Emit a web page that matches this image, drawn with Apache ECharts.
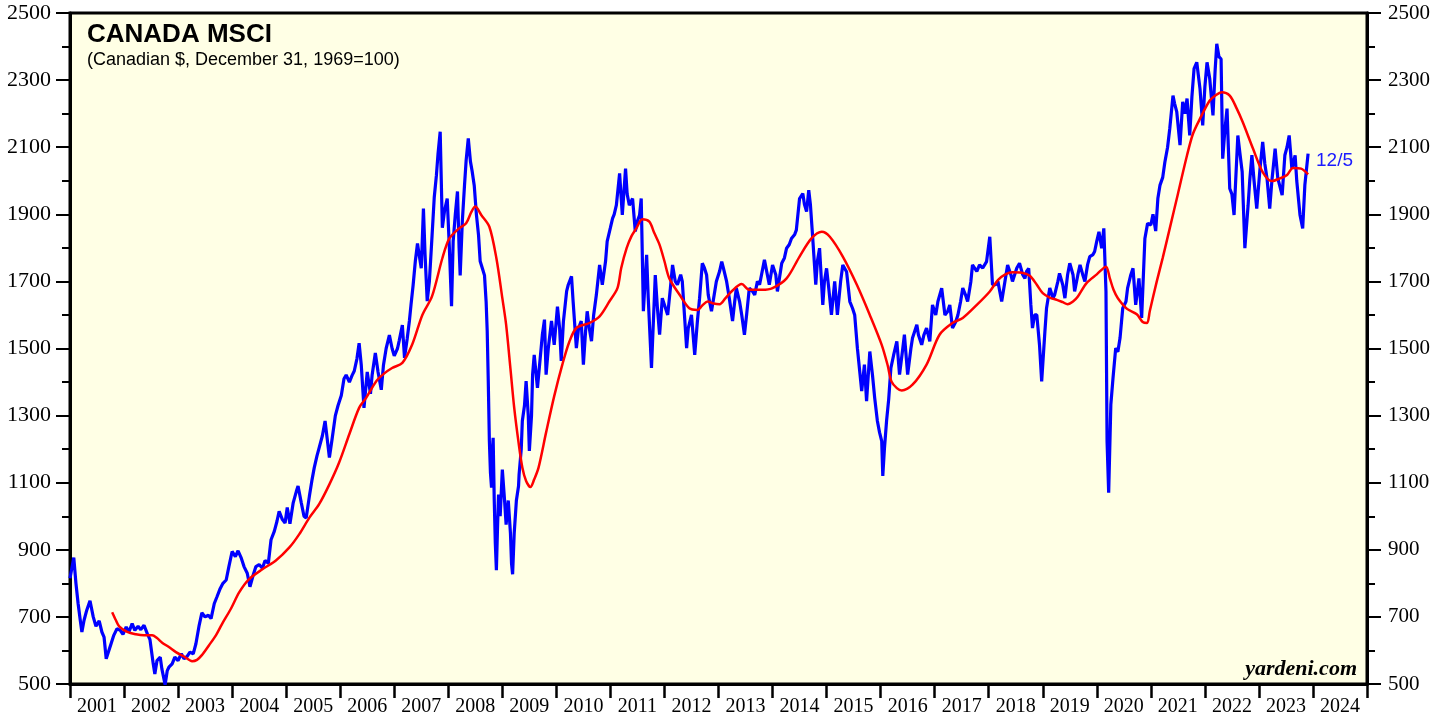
<!DOCTYPE html>
<html>
<head>
<meta charset="utf-8">
<script src="https://cdn.jsdelivr.net/npm/echarts@6/dist/echarts.min.js"></script>
<style>
  html, body { margin: 0; padding: 0; background: #fff; }
  #main { width: 1448px; height: 717px; }
</style>
</head>
<body>
<div id="main"></div>
<script>
// year labels under the axis
var years = ['2001', '2002', '2003', '2004', '2005', '2006', '2007', '2008', '2009', '2010', '2011', '2012',
  '2013', '2014', '2015', '2016', '2017', '2018', '2019', '2020', '2021', '2022', '2023', '2024'];

// Canada MSCI index (decimal year, value)
var msciTime = [
  2001.00, 2001.04, 2001.07, 2001.11, 2001.15, 2001.19, 2001.22, 2001.26, 2001.31, 2001.37, 2001.43, 2001.48,
  2001.54, 2001.59, 2001.63, 2001.67, 2001.70, 2001.76, 2001.81, 2001.87, 2001.93, 2001.98,
  2002.04, 2002.09, 2002.15, 2002.20, 2002.26, 2002.31, 2002.37, 2002.43, 2002.48, 2002.54, 2002.57, 2002.61,
  2002.67, 2002.70, 2002.76, 2002.80, 2002.83, 2002.89, 2002.94,
  2003.00, 2003.06, 2003.11, 2003.17, 2003.22, 2003.28, 2003.33, 2003.39, 2003.44, 2003.50, 2003.56, 2003.61,
  2003.67, 2003.72, 2003.78, 2003.83, 2003.89, 2003.94,
  2004.00, 2004.06, 2004.11, 2004.17, 2004.22, 2004.28, 2004.33, 2004.39, 2004.44, 2004.50, 2004.56, 2004.61,
  2004.67, 2004.72, 2004.78, 2004.83, 2004.87, 2004.93, 2004.98,
  2005.02, 2005.07, 2005.13, 2005.19, 2005.22, 2005.28, 2005.33, 2005.37, 2005.43, 2005.48, 2005.52, 2005.57,
  2005.61, 2005.67, 2005.72, 2005.76, 2005.80, 2005.85, 2005.91, 2005.96,
  2006.02, 2006.07, 2006.11, 2006.17, 2006.22, 2006.26, 2006.31, 2006.35, 2006.39, 2006.44, 2006.50, 2006.56,
  2006.59, 2006.65, 2006.70, 2006.76, 2006.80, 2006.85, 2006.91, 2006.96,
  2007.00, 2007.06, 2007.09, 2007.15, 2007.19, 2007.24, 2007.28, 2007.31, 2007.35, 2007.39, 2007.43, 2007.46,
  2007.50, 2007.54, 2007.57, 2007.61, 2007.65, 2007.70, 2007.74, 2007.78, 2007.81, 2007.85, 2007.89, 2007.93, 2007.98,
  2008.02, 2008.06, 2008.09, 2008.13, 2008.17, 2008.20, 2008.22, 2008.26, 2008.30, 2008.33, 2008.37, 2008.41,
  2008.44, 2008.48, 2008.52, 2008.56, 2008.59, 2008.63, 2008.67, 2008.70, 2008.72, 2008.74, 2008.76, 2008.78,
  2008.80, 2008.81, 2008.83, 2008.85, 2008.87, 2008.89, 2008.91, 2008.93, 2008.96,
  2009.00, 2009.04, 2009.07, 2009.11, 2009.15, 2009.17, 2009.19, 2009.22, 2009.26, 2009.30, 2009.31, 2009.35,
  2009.37, 2009.41, 2009.44, 2009.48, 2009.50, 2009.54, 2009.56, 2009.59, 2009.65, 2009.70, 2009.74, 2009.78,
  2009.81, 2009.85, 2009.91, 2009.96,
  2010.02, 2010.06, 2010.09, 2010.13, 2010.19, 2010.22, 2010.28, 2010.31, 2010.37, 2010.41, 2010.46, 2010.50,
  2010.54, 2010.57, 2010.61, 2010.65, 2010.69, 2010.74, 2010.80, 2010.85, 2010.91, 2010.94,
  2011.00, 2011.04, 2011.07, 2011.11, 2011.17, 2011.22, 2011.28, 2011.31, 2011.35, 2011.41, 2011.46, 2011.50,
  2011.54, 2011.57, 2011.61, 2011.67, 2011.70, 2011.76, 2011.80, 2011.83, 2011.87, 2011.91, 2011.96,
  2012.02, 2012.06, 2012.11, 2012.15, 2012.20, 2012.24, 2012.30, 2012.33, 2012.37, 2012.41, 2012.44, 2012.50,
  2012.56, 2012.61, 2012.65, 2012.70, 2012.74, 2012.78, 2012.81, 2012.87, 2012.91, 2012.96,
  2013.02, 2013.06, 2013.09, 2013.15, 2013.20, 2013.26, 2013.30, 2013.33, 2013.39, 2013.43, 2013.48, 2013.52,
  2013.57, 2013.63, 2013.67, 2013.72, 2013.76, 2013.85, 2013.94,
  2014.00, 2014.06, 2014.09, 2014.17, 2014.22, 2014.26, 2014.31, 2014.35, 2014.41, 2014.44, 2014.50, 2014.56,
  2014.59, 2014.63, 2014.67, 2014.70, 2014.74, 2014.80, 2014.83, 2014.87, 2014.93, 2014.96,
  2015.00, 2015.04, 2015.09, 2015.15, 2015.20, 2015.26, 2015.30, 2015.37, 2015.43, 2015.48, 2015.52, 2015.57,
  2015.65, 2015.70, 2015.74, 2015.80, 2015.85, 2015.89, 2015.94, 2015.98,
  2016.02, 2016.04, 2016.07, 2016.11, 2016.15, 2016.19, 2016.24, 2016.30, 2016.35, 2016.41, 2016.44, 2016.50,
  2016.56, 2016.59, 2016.67, 2016.70, 2016.76, 2016.80, 2016.85, 2016.91, 2016.96,
  2017.02, 2017.06, 2017.13, 2017.19, 2017.24, 2017.28, 2017.33, 2017.39, 2017.43, 2017.48, 2017.52, 2017.57,
  2017.61, 2017.67, 2017.70, 2017.78, 2017.83, 2017.89, 2017.96,
  2018.02, 2018.07, 2018.13, 2018.17, 2018.24, 2018.30, 2018.35, 2018.41, 2018.44, 2018.52, 2018.57, 2018.63,
  2018.67, 2018.70, 2018.74, 2018.78, 2018.81, 2018.85, 2018.89, 2018.94, 2018.98,
  2019.04, 2019.07, 2019.13, 2019.19, 2019.22, 2019.28, 2019.31, 2019.37, 2019.41, 2019.46, 2019.50, 2019.56,
  2019.59, 2019.65, 2019.69, 2019.74, 2019.78, 2019.83, 2019.87, 2019.93, 2019.96,
  2020.00, 2020.04, 2020.09, 2020.13, 2020.17, 2020.19, 2020.22, 2020.26, 2020.30, 2020.35, 2020.39, 2020.43,
  2020.48, 2020.54, 2020.57, 2020.63, 2020.67, 2020.72, 2020.78, 2020.83, 2020.89, 2020.94,
  2021.00, 2021.04, 2021.09, 2021.13, 2021.17, 2021.22, 2021.26, 2021.31, 2021.35, 2021.41, 2021.44, 2021.48,
  2021.54, 2021.59, 2021.63, 2021.67, 2021.72, 2021.76, 2021.80, 2021.85, 2021.91, 2021.96,
  2022.00, 2022.04, 2022.09, 2022.15, 2022.19, 2022.22, 2022.26, 2022.30, 2022.33, 2022.37, 2022.41, 2022.46,
  2022.50, 2022.54, 2022.57, 2022.61, 2022.65, 2022.69, 2022.74, 2022.80, 2022.83, 2022.87, 2022.91, 2022.96,
  2023.02, 2023.07, 2023.11, 2023.15, 2023.20, 2023.24, 2023.30, 2023.35, 2023.43, 2023.48, 2023.52, 2023.56,
  2023.61, 2023.67, 2023.70, 2023.76, 2023.81, 2023.85, 2023.91
];
var msciValues = [
  815, 850, 877, 800, 740, 690, 655, 690, 720, 748, 700, 672,
  688, 655, 640, 575, 590, 620, 645, 665, 660, 648,
  670, 655, 680, 660, 672, 662, 675, 650, 632, 560, 530, 570,
  580, 545, 498, 540, 550, 560, 580,
  570, 590, 575, 583, 595, 590, 620, 675, 712, 700, 705, 695,
  740, 760, 785, 800, 810, 850,
  895, 880, 897, 875, 850, 830, 790, 825, 850, 856, 845, 868,
  860, 930, 955, 985, 1015, 990, 980,
  1026, 978, 1040, 1075, 1090, 1040, 1000, 995, 1060, 1110, 1145, 1180,
  1204, 1240, 1284, 1230, 1175, 1230, 1300, 1330,
  1360, 1410, 1421, 1400, 1420, 1433, 1470, 1516, 1450, 1323, 1430, 1365,
  1420, 1487, 1430, 1377, 1450, 1500, 1540, 1500,
  1478, 1500, 1522, 1570, 1472, 1530, 1582, 1630, 1690, 1760, 1813, 1780,
  1739, 1917, 1780, 1641, 1700, 1837, 1950, 2016, 2080, 2146, 1860, 1910, 1947,
  1800, 1626, 1819, 1900, 1968, 1800, 1718, 1880, 1986, 2060, 2126, 2057,
  2030, 1986, 1900, 1837, 1760, 1739, 1718, 1640, 1552, 1400, 1225, 1130,
  1085, 1180, 1234, 1050, 920, 839, 960, 1065, 1000,
  1139, 1050, 975, 1047, 950, 860, 827, 950, 1047, 1090, 1124, 1200,
  1284, 1330, 1403, 1300, 1195, 1300, 1422, 1481, 1383, 1470, 1540, 1586,
  1422, 1500, 1582, 1511,
  1625, 1560, 1463, 1580, 1671, 1690, 1715, 1640, 1501, 1560, 1582, 1452,
  1550, 1611, 1560, 1522, 1600, 1660, 1749, 1690, 1760, 1819,
  1860, 1888, 1900, 1927, 2022, 1898, 2036, 1960, 1927, 1947, 1849, 1880,
  1898, 1947, 1611, 1779, 1650, 1442, 1600, 1719, 1620, 1541, 1650,
  1620, 1600, 1680, 1749, 1700, 1690, 1720, 1700, 1600, 1501, 1560, 1600,
  1481, 1582, 1650, 1754, 1740, 1719, 1660, 1611, 1650, 1700,
  1730, 1759, 1740, 1700, 1650, 1582, 1640, 1680, 1640, 1600, 1541, 1600,
  1680, 1670, 1660, 1700, 1690, 1764, 1690,
  1749, 1720, 1670, 1754, 1770, 1799, 1810, 1828, 1840, 1853, 1947, 1962,
  1930, 1908, 1972, 1930, 1838, 1690, 1760, 1799, 1630, 1700,
  1739, 1680, 1600, 1700, 1600, 1700, 1749, 1729, 1640, 1620, 1600, 1501,
  1373, 1452, 1343, 1491, 1420, 1353, 1284, 1250,
  1224, 1120, 1200, 1284, 1350, 1442, 1480, 1521, 1422, 1500, 1541, 1422,
  1500, 1531, 1571, 1540, 1511, 1540, 1561, 1521, 1630,
  1600, 1640, 1680, 1600, 1610, 1630, 1561, 1580, 1600, 1640, 1680, 1660,
  1640, 1700, 1749, 1730, 1749, 1740, 1759,
  1833, 1690, 1690, 1700, 1640, 1700, 1749, 1720, 1700, 1740, 1754, 1720,
  1709, 1730, 1739, 1630, 1561, 1600, 1600, 1511, 1402,
  1551, 1620, 1680, 1650, 1660, 1700, 1724, 1690, 1650, 1720, 1754, 1720,
  1670, 1720, 1749, 1720, 1700, 1750, 1774, 1780, 1789,
  1820, 1848, 1799, 1858, 1670, 1224, 1070, 1333, 1412, 1501, 1490, 1531,
  1620, 1640, 1680, 1720, 1739, 1630, 1709, 1591, 1828, 1873,
  1868, 1900, 1850, 1947, 1987, 2010, 2056, 2100, 2155, 2254, 2230, 2205,
  2106, 2235, 2200, 2245, 2135, 2250, 2334, 2353, 2274, 2165,
  2280, 2353, 2304, 2195, 2330, 2408, 2370, 2363, 2066, 2150, 2215, 1977,
  1960, 1898, 2000, 2135, 2080, 2027, 1799, 1927, 2000, 2076, 2000, 1917,
  2036, 2116, 2050, 2007, 1917, 2000, 2096, 2007, 1957, 2076, 2100, 2135,
  2036, 2076, 2000, 1898, 1858, 1987, 2081
];

// 52-week moving average
var maTime = [
  2001.78, 2001.85, 2001.91, 2002.06, 2002.22, 2002.37, 2002.52, 2002.61, 2002.70, 2002.83, 2002.96,
  2003.11, 2003.26, 2003.35, 2003.44, 2003.57, 2003.70, 2003.81, 2003.98,
  2004.13, 2004.31, 2004.56, 2004.81, 2005.06, 2005.24, 2005.43, 2005.61, 2005.80, 2005.98,
  2006.17, 2006.35, 2006.48, 2006.67, 2006.81, 2006.96, 2007.15, 2007.33, 2007.52, 2007.70, 2007.89,
  2008.02, 2008.20, 2008.33, 2008.43, 2008.50, 2008.61, 2008.76, 2008.89,
  2009.00, 2009.07, 2009.15, 2009.22, 2009.30, 2009.37, 2009.44, 2009.52, 2009.59, 2009.67, 2009.81, 2009.96,
  2010.11, 2010.24, 2010.37, 2010.61, 2010.80, 2010.98,
  2011.13, 2011.20, 2011.30, 2011.39, 2011.48, 2011.59, 2011.72, 2011.81, 2011.91,
  2012.00, 2012.09, 2012.28, 2012.46, 2012.61, 2012.70, 2012.80, 2012.91,
  2013.02, 2013.13, 2013.24, 2013.43, 2013.57, 2013.81,
  2014.00, 2014.26, 2014.50, 2014.72, 2014.91, 2015.06, 2015.30, 2015.56, 2015.80,
  2016.02, 2016.13, 2016.20, 2016.30, 2016.39, 2016.59, 2016.85,
  2017.09, 2017.33, 2017.52, 2017.78, 2018.02, 2018.17, 2018.30, 2018.44, 2018.61, 2018.76, 2018.89,
  2019.00, 2019.13, 2019.26, 2019.37, 2019.46, 2019.56, 2019.65, 2019.81,
  2020.00, 2020.17, 2020.24, 2020.31, 2020.39, 2020.56, 2020.74, 2020.85, 2020.93, 2020.98,
  2021.11, 2021.22, 2021.35, 2021.50, 2021.67, 2021.78, 2021.91,
  2022.09, 2022.20, 2022.31, 2022.46, 2022.59, 2022.70, 2022.89,
  2023.07, 2023.24, 2023.39, 2023.52, 2023.63, 2023.78, 2023.91
];
var maValues = [
  714, 690, 672, 655, 648, 645, 645, 637, 624, 610, 595,
  582, 568, 572, 586, 615, 645, 678, 725,
  773, 812, 842, 868, 907, 946, 996, 1036, 1095, 1160,
  1245, 1323, 1353, 1403, 1425, 1442, 1457, 1511, 1600, 1656, 1769,
  1828, 1858, 1873, 1908, 1923, 1898, 1863, 1769,
  1650, 1571, 1440, 1323, 1220, 1145, 1105, 1087, 1110, 1145, 1250, 1358,
  1452, 1520, 1561, 1576, 1596, 1640,
  1680, 1740, 1799, 1835, 1858, 1885, 1878, 1845, 1809,
  1760, 1709, 1660, 1620, 1615, 1628, 1640, 1634,
  1632, 1650, 1670, 1692, 1675, 1675,
  1680, 1709, 1774, 1828, 1848, 1833, 1774, 1690, 1600,
  1511, 1450, 1402, 1382, 1375, 1392, 1452,
  1541, 1576, 1591, 1630, 1670, 1704, 1720, 1727, 1726, 1717, 1690,
  1665, 1652, 1645, 1638, 1632, 1640, 1655, 1695,
  1721, 1744, 1710, 1675, 1650, 1618, 1602, 1579, 1576, 1611,
  1700, 1770, 1858, 1960, 2076, 2140, 2185,
  2239, 2255, 2264, 2254, 2215, 2175, 2096,
  2026, 1999, 2007, 2017, 2038, 2036, 2019
];

var yTicks = {min: 500, max: 2500, step: 200};

function pairs(xs, ys) {
    return xs.map(function (x, i) { return [x, ys[i]]; });
}

var myChart = echarts.init(document.getElementById('main'));

var valueAxisStyle = {
    type: 'value',
    min: yTicks.min,
    max: yTicks.max,
    interval: yTicks.step,
    axisLine: {show: true, lineStyle: {color: '#000', width: 3}},
    axisTick: {show: true, length: 14, lineStyle: {color: '#000', width: 2}},
    minorTick: {show: true, splitNumber: 2, length: 8, lineStyle: {color: '#000', width: 2}},
    splitLine: {show: false},
    axisLabel: {
        color: '#000', fontFamily: 'Liberation Serif', fontSize: 21,
        formatter: function (v) { return String(v); }
    }
};

var option = {
    backgroundColor: '#fff',
    animation: false,
    grid: {
        left: 70, right: 81, top: 13, bottom: 32,
        show: true,
        backgroundColor: '#ffffe5',
        borderColor: '#000',
        borderWidth: 3
    },
    xAxis: [
        {type: 'value', min: 2001, max: 2025, show: false},
        {
            type: 'category',
            data: years,
            position: 'bottom',
            boundaryGap: true,
            axisLine: {show: true, lineStyle: {color: '#000', width: 3}},
            axisTick: {show: true, length: 14, lineStyle: {color: '#000', width: 2.5}},
            axisLabel: {interval: 0, margin: 13, color: '#000', fontFamily: 'Liberation Serif', fontSize: 20}
        }
    ],
    yAxis: [
        Object.assign({}, valueAxisStyle, {position: 'left', axisLabel: Object.assign({}, valueAxisStyle.axisLabel, {margin: 19, fontSize: 22})}),
        Object.assign({}, valueAxisStyle, {position: 'right', axisLabel: Object.assign({}, valueAxisStyle.axisLabel, {margin: 21})})
    ],
    graphic: [
        {type: 'text', left: 87, top: 22, style: {text: 'CANADA MSCI', font: 'bold 26px Arial', fill: '#000'}},
        {type: 'text', left: 87, top: 51, style: {text: '(Canadian $, December 31, 1969=100)', font: '18px Arial', fill: '#000'}},
        {type: 'text', left: 1316, top: 151, style: {text: '12/5', font: '19px Arial', fill: '#1a1aff'}},
        {type: 'text', right: 91, top: 658, style: {text: 'yardeni.com', font: 'italic bold 22px "Liberation Serif"', fill: '#000'}}
    ],
    series: [
        {
            name: 'Canada MSCI',
            type: 'line',
            xAxisIndex: 0,
            yAxisIndex: 0,
            data: pairs(msciTime, msciValues),
            showSymbol: false,
            lineStyle: {color: '#0000ff', width: 3.2},
            z: 2
        },
        {
            name: '52-week moving average',
            type: 'line',
            xAxisIndex: 0,
            yAxisIndex: 0,
            data: pairs(maTime, maValues),
            showSymbol: false,
            smooth: 0.3,
            lineStyle: {color: '#ff0000', width: 2.5},
            z: 3
        }
    ]
};

myChart.setOption(option);
</script>
</body>
</html>
